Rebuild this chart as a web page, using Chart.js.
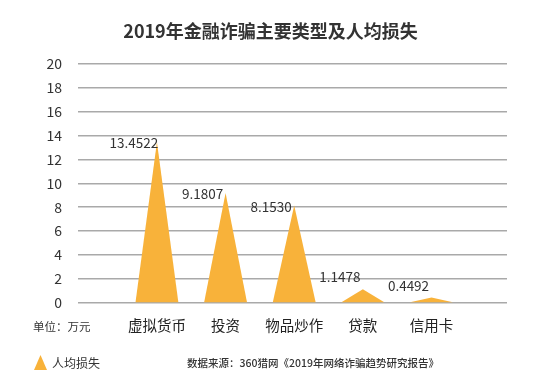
<!DOCTYPE html>
<html>
<head>
<meta charset="utf-8">
<script src="https://cdn.jsdelivr.net/npm/chart.js@4/dist/chart.umd.min.js"></script>
<style>
  html, body { margin: 0; padding: 0; background: #fff; }
  #wrap { width: 554px; height: 372px; }
</style>
</head>
<body>
<div id="wrap"><canvas id="lossChart"></canvas></div>
<script>
const categories = ['虚拟货币', '投资', '物品炒作', '贷款', '信用卡'];
const lossValues = [13.4522, 9.1807, 8.1530, 1.1478, 0.4492];
const valueLabels = ['13.4522', '9.1807', '8.1530', '1.1478', '0.4492'];
const seriesName = '人均损失';
const yMin = 0, yMax = 20, yStep = 2;

const FONT = "'Noto Sans CJK SC', 'Noto Sans', sans-serif";
const GOLD = '#F8B23A';

// draw bars as pointed triangles instead of rectangles
const peakPlugin = {
    id: 'peaks',
    beforeDatasetDraw() { return false; },
    afterDatasetsDraw(chart) {
        const ctx = chart.ctx;
        const meta = chart.getDatasetMeta(0);
        ctx.save();
        meta.data.forEach((bar, i) => {
            const p = bar.getProps(['x', 'y', 'base', 'width'], true);
            ctx.fillStyle = GOLD;
            ctx.beginPath();
            ctx.moveTo(p.x - p.width / 2, p.base);
            ctx.lineTo(p.x, p.y);
            ctx.lineTo(p.x + p.width / 2, p.base);
            ctx.closePath();
            ctx.fill();

            ctx.font = '13.5px ' + FONT;
            ctx.fillStyle = '#333';
            ctx.textAlign = 'center';
            ctx.textBaseline = 'middle';
            // low peaks get their label lifted clear of the slope
            const h = p.base - p.y;
            const ly = h < 20 ? p.base - 12 - h : p.y + 1;
            ctx.fillText(valueLabels[i], p.x - 23, ly);
        });
        ctx.restore();
    }
};

// unit note, legend and source line under the axis
const notesPlugin = {
    id: 'notes',
    afterDraw(chart) {
        const ctx = chart.ctx;
        ctx.save();
        ctx.fillStyle = '#333';
        ctx.textBaseline = 'middle';
        ctx.textAlign = 'left';
        ctx.font = '11.5px ' + FONT;
        ctx.fillText('单位：万元', 33, 327);

        ctx.fillStyle = GOLD;
        ctx.beginPath();
        ctx.moveTo(34, 370);
        ctx.lineTo(40.5, 355);
        ctx.lineTo(47, 370);
        ctx.closePath();
        ctx.fill();
        ctx.fillStyle = '#333';
        ctx.font = '12px ' + FONT;
        ctx.fillText(seriesName, 52, 363);

        ctx.font = '500 10.5px ' + FONT;
        ctx.fillText('数据来源：360猎网《2019年网络诈骗趋势研究报告》', 187, 363);
        ctx.restore();
    }
};

const ctx = document.getElementById('lossChart').getContext('2d');
const lossChart = new Chart(ctx, {
    type: 'bar',
    data: {
        datasets: [{
            label: seriesName,
            data: lossValues.map((v, i) => ({ x: i, y: v })),
            backgroundColor: GOLD,
            borderWidth: 0,
            barPercentage: 0.78,
            categoryPercentage: 0.8
        }]
    },
    options: {
        responsive: true,
        maintainAspectRatio: false,
        animation: false,
        devicePixelRatio: 1,
        layout: { padding: { top: 0, left: 34, right: 47, bottom: 18 } },
        plugins: {
            title: {
                display: true,
                text: '2019年金融诈骗主要类型及人均损失',
                color: '#333',
                font: { family: FONT, size: 18, weight: 'bold' },
                padding: { top: 20, bottom: 22 }
            },
            legend: { display: false },
            tooltip: { enabled: false }
        },
        scales: {
            x: {
                type: 'linear',
                offset: false,
                min: -1.15,
                max: 5.1,
                grid: { display: false },
                border: { display: false },
                afterBuildTicks: (scale) => {
                    scale.ticks = categories.map((c, i) => ({ value: i }));
                },
                afterFit: (scale) => { scale.height = 51; },
                ticks: {
                    autoSkip: false,
                    maxRotation: 0,
                    padding: 6,
                    color: '#222',
                    font: { family: FONT, size: 14.5 },
                    callback: (v) => categories[v] ?? ''
                }
            },
            y: {
                min: yMin,
                max: yMax,
                afterFit: (scale) => { scale.width = 44; },
                grid: { color: '#a9a9a9', lineWidth: 1.5, drawTicks: false },
                border: { display: false },
                ticks: {
                    stepSize: yStep,
                    padding: 16,
                    color: '#333',
                    font: { family: FONT, size: 14 }
                }
            }
        }
    },
    plugins: [peakPlugin, notesPlugin]
});
</script>
</body>
</html>
